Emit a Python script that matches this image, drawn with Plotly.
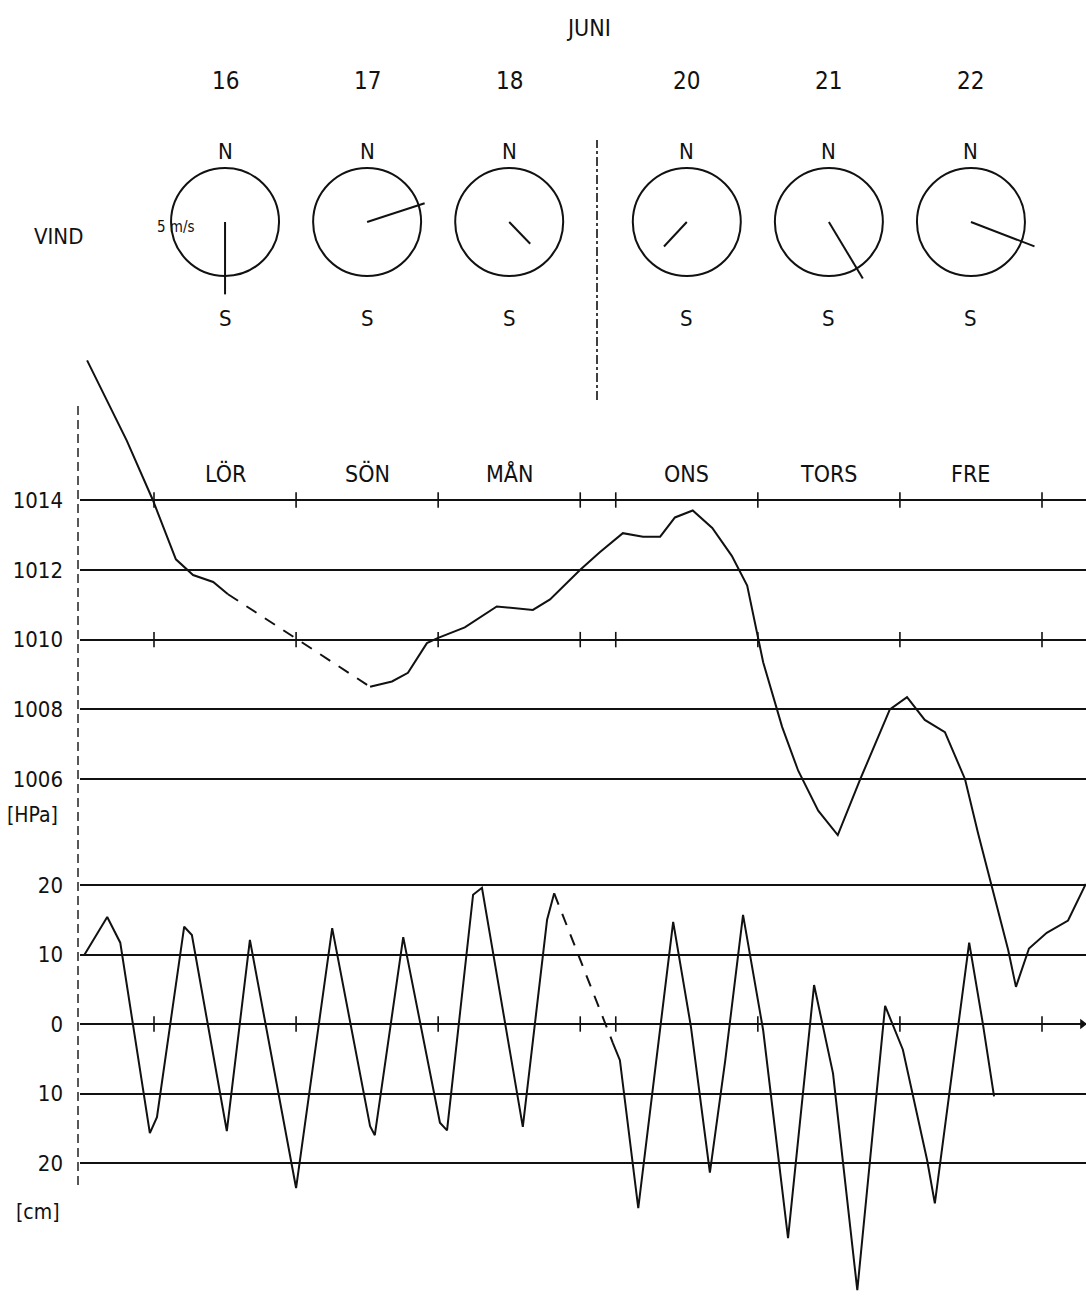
import math
import plotly.graph_objects as go

# ---------------- data ----------------
month_label = "JUNI"
dates = ["16", "17", "18", "20", "21", "22"]
day_names = ["LÖR", "SÖN", "MÅN", "ONS", "TORS", "FRE"]
day_start_h = [0, 24, 48, 78, 102, 126]          # chart hours (Tuesday 19 omitted)
day_bounds_h = [0, 24, 48, 72, 78, 102, 126, 150]

wind_dir_deg = [180, 72, 136, 223, 149, 111]       # direction of drawn vector (deg from N)
wind_speed = [6.7, 5.6, 2.8, 3.1, 6.1, 6.3]         # m/s (circle = 5 m/s)
wind_ref_speed = 5

p_hours = [-11.3, -4.6, -0.2, 3.7, 6.6, 10.0, 12.5, 36.5, 40.2, 42.9, 46.1, 48.0, 52.5, 57.9, 64.0,
           66.9, 72.0, 75.3, 79.2, 82.6, 85.5, 88.0, 91.0, 94.3, 97.6, 100.2, 102.9, 106.1, 108.8,
           112.2, 115.5, 119.3, 124.3, 127.2, 130.2, 133.6, 137.0, 139.2, 144.3, 145.6, 147.8,
           150.8, 154.4, 157.4]
p_vals = [1018.0, 1015.7, 1014.0, 1012.3, 1011.85, 1011.65, 1011.3, 1008.65, 1008.8, 1009.05,
          1009.9, 1010.05, 1010.35, 1010.95, 1010.85, 1011.15, 1012.0, 1012.5, 1013.05, 1012.95,
          1012.95, 1013.5, 1013.7, 1013.2, 1012.4, 1011.55, 1009.35, 1007.5, 1006.25, 1005.1,
          1004.4, 1006.0, 1008.0, 1008.35, 1007.7, 1007.35, 1006.0, 1004.45, 1001.1, 1000.05,
          1001.15, 1001.6, 1001.95, 1003.0]
p_gap = 6   # segment p[6]..p[7] drawn dashed

w_hours = [-11.8, -7.9, -5.7, -0.7, 0.5, 5.1, 6.4, 12.3, 16.2, 24.0, 30.1, 36.5, 37.3, 42.1, 48.3,
           49.5, 53.9, 55.4, 62.3, 66.4, 67.6, 77.5, 78.7, 81.8, 87.7, 90.7, 93.9, 96.5, 99.5,
           102.9, 107.1, 111.5, 112.8, 114.7, 118.8, 123.5, 126.5, 130.6, 131.9, 137.7, 140.0, 141.9]
w_vals = [9.9, 15.4, 11.7, -15.7, -13.4, 14.0, 12.8, -15.4, 12.1, -23.6, 13.8, -14.7, -16.0, 12.5,
          -14.2, -15.3, 18.6, 19.6, -14.8, 15.0, 18.8, -2.7, -5.2, -26.5, 14.7, -0.4, -21.4, -5.2,
          15.7, -0.9, -30.8, 5.6, 0.3, -7.1, -38.3, 2.6, -3.7, -19.6, -25.8, 11.7, 0.1, -10.4]
w_gap = 20  # segment w[20]..w[21] drawn dashed

p_ticks = [1006, 1008, 1010, 1012, 1014]
w_ticks = [-20, -10, 0, 10, 20]
w_ticktext = ["20", "10", "0", "10", "20"]

# ---------------- figure geometry ----------------
W, H = 1086, 1296
L = 80
PX_PER_H = 5.92
X0 = 154  # pixel of hour 0
x_range = [(L - X0) / PX_PER_H, (W - X0) / PX_PER_H]
split = 340 / H
P_PX = 34.9
p_range = [1014 - (H - 500) / P_PX, 1014 + (500 - 340) / P_PX]
W_PX = 6.95
w_range = [-(H - 1024) / W_PX, (1024 - 340) / W_PX]
R_PX = 54
WIND_PX = R_PX / wind_ref_speed
wind_range = [-(340 - 222) / WIND_PX, 222 / WIND_PX]
h_per_ms = WIND_PX / PX_PER_H

FONT = "DejaVu Sans Condensed, Liberation Sans Narrow, Roboto, sans-serif"
INK = "#111111"


def f(size):
    return dict(family=FONT, size=size, color=INK)


fig = go.Figure()

# pressure curve
fig.add_trace(go.Scatter(x=p_hours[:p_gap + 1], y=p_vals[:p_gap + 1], mode="lines",
                         line=dict(color=INK, width=2), yaxis="y", showlegend=False))
fig.add_trace(go.Scatter(x=p_hours[p_gap:p_gap + 2], y=p_vals[p_gap:p_gap + 2], mode="lines",
                         line=dict(color=INK, width=2, dash="12px,10px"), yaxis="y", showlegend=False))
fig.add_trace(go.Scatter(x=p_hours[p_gap + 1:], y=p_vals[p_gap + 1:], mode="lines",
                         line=dict(color=INK, width=2), yaxis="y", showlegend=False))

# water level curve
fig.add_trace(go.Scatter(x=w_hours[:w_gap + 1], y=w_vals[:w_gap + 1], mode="lines",
                         line=dict(color=INK, width=2), yaxis="y2", showlegend=False))
fig.add_trace(go.Scatter(x=w_hours[w_gap:w_gap + 2], y=w_vals[w_gap:w_gap + 2], mode="lines",
                         line=dict(color=INK, width=2, dash="12px,10px"), yaxis="y2", showlegend=False))
fig.add_trace(go.Scatter(x=w_hours[w_gap + 1:], y=w_vals[w_gap + 1:], mode="lines",
                         line=dict(color=INK, width=2), yaxis="y2", showlegend=False))

# day boundary tick marks
tick_marker = dict(symbol="line-ns", size=11, line=dict(color=INK, width=1.6))
for lvl in (1014, 1010):
    fig.add_trace(go.Scatter(x=day_bounds_h, y=[lvl] * len(day_bounds_h), mode="markers",
                             marker=tick_marker, yaxis="y", showlegend=False, cliponaxis=False))
fig.add_trace(go.Scatter(x=day_bounds_h, y=[0] * len(day_bounds_h), mode="markers",
                         marker=tick_marker, yaxis="y2", showlegend=False, cliponaxis=False))
fig.add_trace(go.Scatter(x=[x_range[1] - 0.6], y=[0], mode="markers",
                         marker=dict(symbol="triangle-right", size=9, color=INK),
                         yaxis="y2", showlegend=False, cliponaxis=False))

# wind vectors
centers = [s + 12 for s in day_start_h]
vx, vy = [], []
for c, d, s in zip(centers, wind_dir_deg, wind_speed):
    rad = math.radians(d)
    vx += [c, c + s * math.sin(rad) * h_per_ms, None]
    vy += [0, s * math.cos(rad), None]
fig.add_trace(go.Scatter(x=vx, y=vy, mode="lines", line=dict(color=INK, width=2),
                         yaxis="y3", showlegend=False, cliponaxis=False))

shapes = []
for c in centers:
    shapes.append(dict(type="circle", xref="x", yref="y3", xsizemode="pixel", ysizemode="pixel",
                       xanchor=c, yanchor=0, x0=-R_PX, x1=R_PX, y0=-R_PX, y1=R_PX,
                       line=dict(color=INK, width=2)))
# divider between 18 and 20 June
div_h = (597 - X0) / PX_PER_H
shapes.append(dict(type="line", xref="x", yref="paper", x0=div_h, x1=div_h,
                   y0=1 - 400 / H, y1=1 - 140 / H, line=dict(color=INK, width=1.6, dash="dashdot")))
# left axis line
shapes.append(dict(type="line", xref="paper", yref="paper", x0=-2 / (W - L), x1=-2 / (W - L),
                   y0=1 - 1185 / H, y1=1 - 405 / H, line=dict(color=INK, width=1.4, dash="9px,5px")))

ann = []
ann.append(dict(x=(588 - X0) / PX_PER_H, y=18.0, xref="x", yref="y3", text=month_label,
                showarrow=False, font=f(23)))
for c, dt, dn in zip(centers, dates, day_names):
    ann.append(dict(x=c, y=13.1, xref="x", yref="y3", text=dt, showarrow=False, font=f(24)))
    ann.append(dict(x=c, y=6.5, xref="x", yref="y3", text="N", showarrow=False, font=f(22)))
    ann.append(dict(x=c, y=-8.9, xref="x", yref="y3", text="S", showarrow=False, font=f(22)))
    ann.append(dict(x=c, y=1014.75, xref="x", yref="y", text=dn, showarrow=False, font=f(23)))
ann.append(dict(x=(58 - L) / (W - L), y=1 - 222 / H, xref="paper", yref="paper", text="VIND",
                xanchor="center", showarrow=False, font=f(22)))
ann.append(dict(x=(176 - X0) / PX_PER_H, y=-0.5, xref="x", yref="y3", text="5 m/s",
                xanchor="center", showarrow=False, font=f(15)))
ann.append(dict(x=(32 - L) / (W - L), y=1 - 815 / H, xref="paper", yref="paper", text="[HPa]",
                xanchor="center", showarrow=False, font=f(21)))
ann.append(dict(x=(38 - L) / (W - L), y=1 - 1226 / H, xref="paper", yref="paper", text="[cm]",
                xanchor="center", showarrow=False, font=f(21)))

grid = dict(showgrid=True, gridcolor=INK, gridwidth=1.5, zeroline=False, showline=False,
            ticks="", ticklabelstandoff=16, tickfont=f(22), fixedrange=True)

fig.update_layout(
    width=W, height=H, margin=dict(l=L, r=0, t=0, b=0),
    paper_bgcolor="white", plot_bgcolor="white", showlegend=False,
    shapes=shapes, annotations=ann,
    xaxis=dict(range=x_range, visible=False, domain=[0, 1], fixedrange=True),
    yaxis=dict(domain=[0, 1 - split], range=p_range, tickvals=p_ticks, **grid),
    yaxis2=dict(domain=[0, 1 - split], range=w_range, overlaying="y", side="left",
                tickvals=w_ticks, ticktext=w_ticktext, **grid),
    yaxis3=dict(domain=[1 - split, 1], range=wind_range, visible=False, anchor="x"),
)

fig.write_html("out.html", config={"displayModeBar": False},
               post_script="document.body.style.margin='0';document.body.style.overflow='hidden';")
